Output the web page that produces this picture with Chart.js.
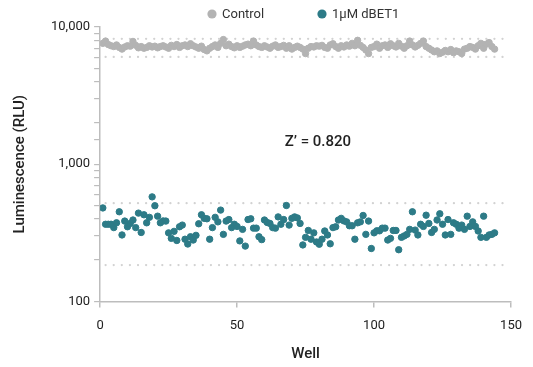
<!DOCTYPE html>
<html>
<head>
<meta charset="utf-8">
<script src="https://cdn.jsdelivr.net/npm/chart.js@4.4.1/dist/chart.umd.min.js"></script>
<style>
  html, body { margin: 0; padding: 0; background: #fff; }
  #wrap { width: 533px; height: 367px; }
</style>
</head>
<body>
<div id="wrap"><canvas id="plateChart" width="533" height="367"></canvas></div>
<script>
// luminescence per well (RLU)
const controlRLU = [
  7600, 7900, 7450, 7300, 7200, 7400, 7100, 6900, 7150, 7300, 7250, 7850, 7350, 7050, 7200, 7000, 7100, 7300, 7150, 7250, 7050, 7200, 7300, 7150,
  7000, 7350, 7200, 7450, 7100, 7300, 7400, 7200, 7550, 7300, 7150, 7000, 7250, 6850, 6700, 7000, 7200, 7400, 7100, 7600, 8100, 7300, 7500, 7200,
  7050, 7300, 7100, 7250, 7400, 7500, 7300, 7900, 7400, 7200, 7100, 7300, 7150, 7000, 7250, 7400, 7100, 7200, 7350, 7000, 7300, 6900, 7100, 7250,
  7100, 6900, 6400, 7000, 7200, 7150, 7300, 7250, 7350, 7100, 7000, 7400, 7550, 7200, 7000, 7300, 7150, 7400, 7250, 7600, 7300, 8000, 7350, 7100,
  6800, 6400, 7100, 7200, 7500, 7000, 7300, 7400, 7100, 7550, 7300, 7150, 7600, 7250, 7000, 7300, 7900, 7400, 7150, 7350, 7600, 7900, 7200, 7000,
  6800, 6600, 6700, 6400, 6550, 6750, 6600, 6850, 6500, 6700, 6600, 6400, 6900, 7000, 7200, 7100, 6900, 7300, 7600, 7000, 7500, 7700, 7200, 6900
];
const dbetRLU = [
  480, 365, 365, 365, 345, 374, 450, 305, 385, 350, 370, 392, 345, 440, 318, 428, 374, 410, 578, 498, 418, 374, 386, 385,
  316, 288, 324, 278, 350, 360, 284, 262, 296, 280, 303, 368, 428, 403, 400, 284, 345, 410, 380, 463, 308, 385, 395, 345,
  365, 352, 276, 335, 253, 395, 400, 342, 342, 296, 282, 392, 376, 370, 345, 342, 413, 365, 395, 500, 360, 403, 413, 406,
  370, 258, 293, 329, 284, 316, 271, 261, 284, 326, 305, 263, 345, 350, 392, 403, 386, 380, 356, 356, 284, 374, 380, 423,
  308, 385, 243, 316, 327, 327, 342, 342, 280, 288, 329, 329, 238, 293, 300, 308, 335, 450, 331, 305, 365, 352, 425, 370,
  318, 335, 392, 435, 365, 305, 395, 308, 374, 365, 342, 360, 335, 418, 352, 380, 352, 326, 293, 418, 293, 305, 308, 316
];
// mean +/- 3 SD limits drawn as dotted lines
const controlLimits = [8200, 6050];
const dbetLimits = [520, 184];
const limitSpan = [2, 147];
const zPrime = "Z\u2019 = 0.820";
const yTickValues = [100, 1000, 10000];
const xTickValues = [0, 50, 100, 150];

const GRAY = '#b3b3b3';
const TEAL = '#2d7b87';
const AXIS = '#bdbdbd';

function toPoints(arr) {
  return arr.map((v, i) => ({ x: i + 1, y: v }));
}
function limitLine(val) {
  return {
    type: 'line',
    data: [{ x: limitSpan[0], y: val }, { x: limitSpan[1], y: val }],
    borderColor: '#d2d2d2',
    borderWidth: 2.2,
    borderDash: [0.1, 8],
    borderCapStyle: 'round',
    pointRadius: 0,
    showLine: true,
    fill: false,
    order: 5,
    isLimit: true
  };
}

// Z' text placed in data coordinates + a hand-drawn legend row on top
const extras = {
  id: 'extras',
  afterDatasetsDraw(chart) {
    const c = chart.ctx;
    const xs = chart.scales.x, ys = chart.scales.y;
    c.save();
    c.font = '500 15px Roboto';
    c.fillStyle = '#222';
    c.textAlign = 'center';
    c.textBaseline = 'middle';
    c.fillText(zPrime, xs.getPixelForValue(79.5), ys.getPixelForValue(1450));

    const items = [
      { label: chart.data.datasets[0].label, color: GRAY, x: 212 },
      { label: chart.data.datasets[1].label, color: TEAL, x: 322 }
    ];
    c.font = '13px Roboto';
    c.textAlign = 'left';
    items.forEach(it => {
      c.beginPath();
      c.arc(it.x, 14, 4.6, 0, Math.PI * 2);
      c.fillStyle = it.color;
      c.fill();
      c.fillStyle = '#333';
      c.fillText(it.label, it.x + 10, 14.5);
    });
    c.restore();
  }
};

const ctx = document.getElementById('plateChart').getContext('2d');
new Chart(ctx, {
  type: 'scatter',
  data: {
    datasets: [
      {
        label: 'Control',
        data: toPoints(controlRLU),
        backgroundColor: GRAY,
        borderColor: GRAY,
        pointRadius: 3.2,
        pointHoverRadius: 3.2,
        order: 2
      },
      {
        label: '1\u00b5M dBET1',
        data: toPoints(dbetRLU),
        backgroundColor: TEAL,
        borderColor: TEAL,
        pointRadius: 3.2,
        pointHoverRadius: 3.2,
        order: 1
      },
      limitLine(controlLimits[0]),
      limitLine(controlLimits[1]),
      limitLine(dbetLimits[0]),
      limitLine(dbetLimits[1])
    ]
  },
  options: {
    responsive: false,
    animation: false,
    layout: { padding: { top: 27, right: 18, bottom: 0, left: 11 } },
    plugins: {
      legend: { display: false },
      tooltip: { enabled: false }
    },
    scales: {
      x: {
        type: 'linear',
        min: 0,
        max: 150,
        afterBuildTicks: (s) => { s.ticks = xTickValues.map(v => ({ value: v })); },
        border: { color: AXIS, width: 1.5 },
        grid: { display: true, drawOnChartArea: false, drawTicks: true, tickLength: 6, color: AXIS, lineWidth: 1.5 },
        ticks: { color: '#222', font: { family: 'Roboto', size: 13 }, padding: 11 },
        title: { display: true, text: 'Well', color: '#222', font: { family: 'Roboto', size: 15, weight: '500' }, padding: { top: 0 } }
      },
      y: {
        type: 'logarithmic',
        min: 100,
        max: 10000,
        border: { color: AXIS, width: 1.5 },
        grid: { display: true, drawOnChartArea: false, drawTicks: true, tickLength: 6, color: AXIS, lineWidth: 1.2 },
        ticks: {
          autoSkip: false,
          color: '#222',
          font: { family: 'Roboto', size: 13 },
          padding: 4,
          callback: (v) => yTickValues.includes(v) ? v.toLocaleString('en-US') : ''
        },
        title: { display: true, text: 'Luminescence (RLU)', color: '#222', font: { family: 'Roboto', size: 15, weight: '500' }, padding: { top: 0, bottom: 18 } }
      }
    }
  },
  plugins: [extras]
});
</script>
</body>
</html>
